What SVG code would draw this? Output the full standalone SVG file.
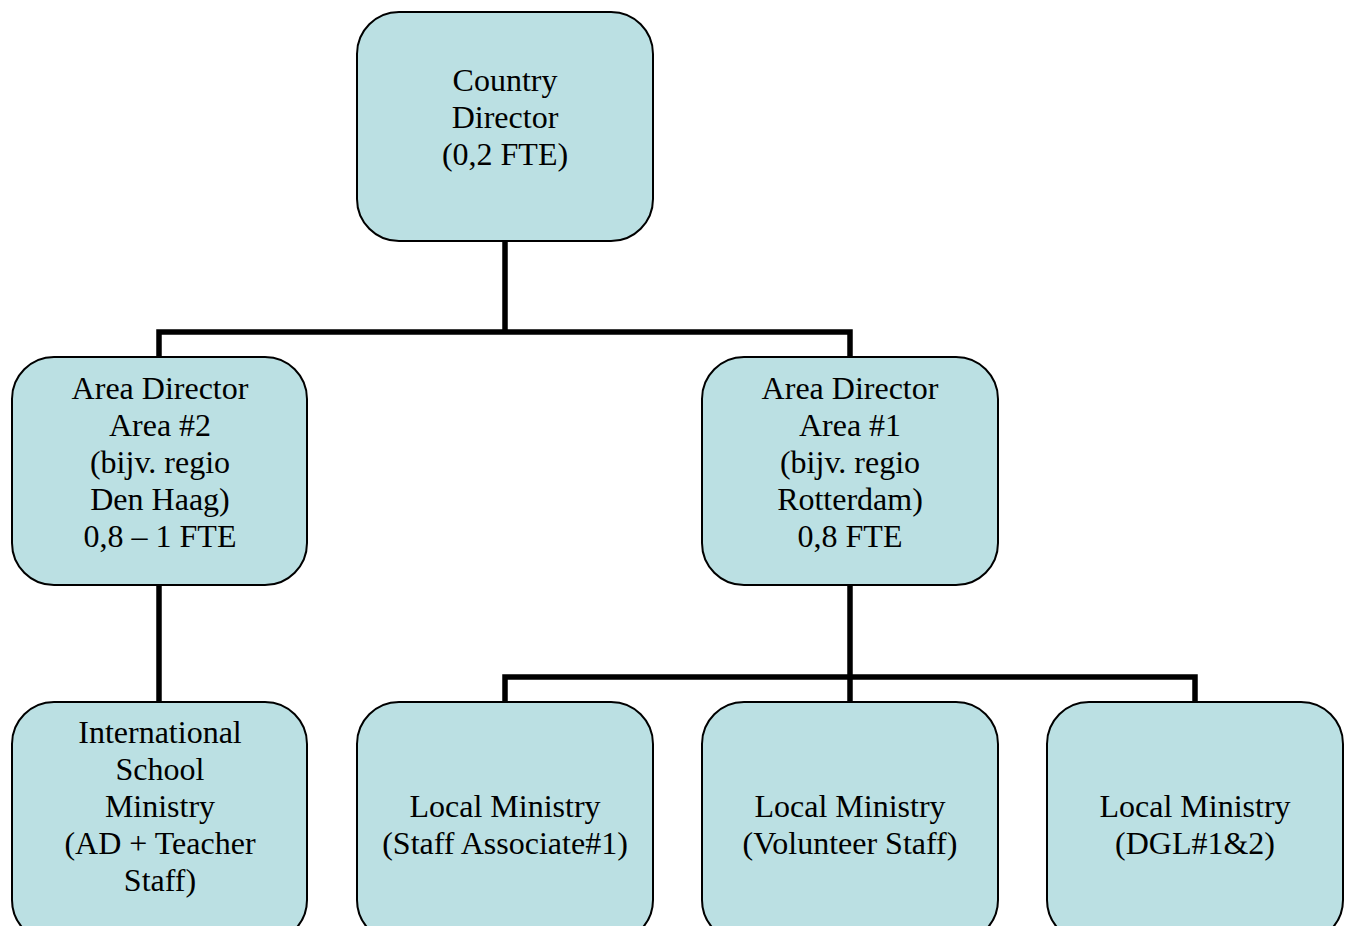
<svg xmlns="http://www.w3.org/2000/svg" width="1349" height="926" viewBox="0 0 1349 926">
<style>
.box{fill:#BBE0E3;stroke:#000;stroke-width:2}
.t{font-family:"Liberation Serif","Times New Roman",serif;font-size:32px;fill:#000;text-anchor:middle}
.c{fill:none;stroke:#000;stroke-width:5.5;stroke-linecap:square;stroke-linejoin:miter}
</style>
<rect width="1349" height="926" fill="#fff"/>
<g id="connectors">
<path class="c" d="M505 243V332M159 357V332H850V357"/>
<path class="c" d="M159 587V700"/>
<path class="c" d="M850 587V700M505 700V677H1195V700"/>
</g>
<g id="country-director">
<rect class="box" x="357" y="12" width="296" height="229" rx="42"/>
<text class="t" x="505" y="91">Country</text>
<text class="t" x="505" y="128">Director</text>
<text class="t" x="505" y="165">(0,2 FTE)</text>
</g>
<g id="area-director-2">
<rect class="box" x="12" y="357" width="295" height="228" rx="42"/>
<text class="t" x="160" y="399">Area Director</text>
<text class="t" x="160" y="436">Area #2</text>
<text class="t" x="160" y="473">(bijv. regio</text>
<text class="t" x="160" y="510">Den Haag)</text>
<text class="t" x="160" y="547">0,8 – 1 FTE</text>
</g>
<g id="area-director-1">
<rect class="box" x="702" y="357" width="296" height="228" rx="42"/>
<text class="t" x="850" y="399">Area Director</text>
<text class="t" x="850" y="436">Area #1</text>
<text class="t" x="850" y="473">(bijv. regio</text>
<text class="t" x="850" y="510">Rotterdam)</text>
<text class="t" x="850" y="547">0,8 FTE</text>
</g>
<g id="international-school">
<rect class="box" x="12" y="702" width="295" height="240" rx="42"/>
<text class="t" x="160" y="743">International</text>
<text class="t" x="160" y="780">School</text>
<text class="t" x="160" y="817">Ministry</text>
<text class="t" x="160" y="854">(AD + Teacher</text>
<text class="t" x="160" y="891">Staff)</text>
</g>
<g id="local-staff-associate">
<rect class="box" x="357" y="702" width="296" height="240" rx="42"/>
<text class="t" x="505" y="817">Local Ministry</text>
<text class="t" x="505" y="854">(Staff Associate#1)</text>
</g>
<g id="local-volunteer">
<rect class="box" x="702" y="702" width="296" height="240" rx="42"/>
<text class="t" x="850" y="817">Local Ministry</text>
<text class="t" x="850" y="854">(Volunteer Staff)</text>
</g>
<g id="local-dgl">
<rect class="box" x="1047" y="702" width="296" height="240" rx="42"/>
<text class="t" x="1195" y="817">Local Ministry</text>
<text class="t" x="1195" y="854">(DGL#1&amp;2)</text>
</g>
</svg>
